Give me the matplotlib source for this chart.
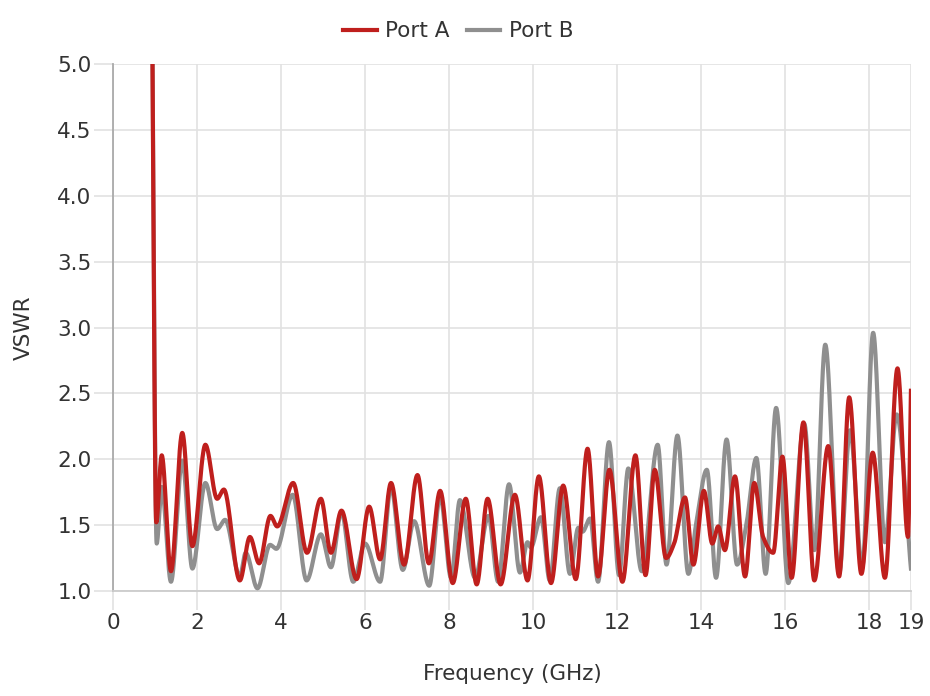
import numpy as np
import matplotlib
matplotlib.use("Agg")
import matplotlib.pyplot as plt

# Port A (red) - extrema
freq_a = [0.92, 1.03, 1.16, 1.38, 1.65, 1.89, 2.20, 2.48, 2.64, 3.02, 3.26, 3.48,
          3.75, 3.91, 4.29, 4.62, 4.95, 5.19, 5.44, 5.80, 6.10, 6.36, 6.62, 6.93,
          7.25, 7.52, 7.79, 8.09, 8.40, 8.66, 8.92, 9.23, 9.57, 9.87, 10.14, 10.43,
          10.72, 11.02, 11.30, 11.55, 11.82, 12.13, 12.44, 12.68, 12.90, 13.17, 13.36,
          13.62, 13.82, 14.07, 14.27, 14.41, 14.57, 14.81, 15.05, 15.27, 15.48, 15.72,
          15.94, 16.16, 16.44, 16.70, 17.03, 17.29, 17.53, 17.82, 18.09, 18.38, 18.68,
          18.93, 19.00]
vswr_a = [6.00, 1.52, 2.03, 1.15, 2.20, 1.34, 2.11, 1.70, 1.77, 1.08, 1.41, 1.21,
          1.57, 1.49, 1.82, 1.29, 1.70, 1.29, 1.61, 1.09, 1.64, 1.24, 1.82, 1.20,
          1.88, 1.21, 1.76, 1.06, 1.70, 1.05, 1.70, 1.05, 1.73, 1.08, 1.87, 1.06,
          1.80, 1.09, 2.08, 1.11, 1.92, 1.07, 2.03, 1.12, 1.92, 1.25, 1.36,
          1.71, 1.20, 1.76, 1.36, 1.49, 1.31, 1.87, 1.11, 1.82, 1.41, 1.29,
          2.02, 1.10, 2.28, 1.08, 2.10, 1.11, 2.47, 1.13, 2.05, 1.10, 2.69,
          1.41, 2.52]

# Port B (gray)
freq_b = [0.92, 1.04, 1.16, 1.38, 1.65, 1.89, 2.20, 2.48, 2.67, 3.02, 3.16, 3.44,
          3.74, 3.89, 4.28, 4.61, 4.95, 5.19, 5.44, 5.72, 6.00, 6.36, 6.62, 6.90,
          7.17, 7.53, 7.79, 8.05, 8.26, 8.62, 8.94, 9.17, 9.43, 9.69, 9.87, 9.95,
          10.19, 10.40, 10.64, 10.88, 11.08, 11.18, 11.36, 11.55, 11.81, 12.05, 12.27,
          12.59, 12.97, 13.18, 13.44, 13.70, 13.89, 14.14, 14.36, 14.61, 14.86, 15.08,
          15.32, 15.54, 15.79, 16.08, 16.46, 16.70, 16.96, 17.29, 17.55, 17.84, 18.10,
          18.38, 18.66, 19.00]
vswr_b = [6.00, 1.36, 1.79, 1.07, 1.99, 1.17, 1.82, 1.47, 1.54, 1.11, 1.29, 1.02,
          1.35, 1.32, 1.73, 1.08, 1.43, 1.18, 1.60, 1.07, 1.36, 1.07, 1.79, 1.16,
          1.53, 1.04, 1.72, 1.10, 1.69, 1.10, 1.57, 1.07, 1.81, 1.14, 1.37, 1.33,
          1.56, 1.08, 1.78, 1.13, 1.48, 1.45, 1.55, 1.07, 2.13, 1.12, 1.93,
          1.15, 2.11, 1.20, 2.18, 1.13, 1.52, 1.92, 1.10, 2.15, 1.20, 1.50,
          2.01, 1.13, 2.39, 1.06, 2.27, 1.31, 2.87, 1.13, 2.22, 1.18, 2.96,
          1.37, 2.34, 1.17]

x_ticks = [0, 2, 4, 6, 8, 10, 12, 14, 16, 18, 19]
y_ticks = [1.0, 1.5, 2.0, 2.5, 3.0, 3.5, 4.0, 4.5, 5.0]

RED = "#bf1f1d"
GRAY = "#8f8f8f"
TEXT = "#333333"


def pchip(x, y, xs):
    # monotone cubic so the curve passes through each peak/valley without overshoot
    x = np.asarray(x, float)
    y = np.asarray(y, float)
    h = np.diff(x)
    d = np.diff(y) / h
    m = np.zeros_like(y)
    for k in range(1, len(x) - 1):
        if d[k - 1] * d[k] > 0:
            w1 = 2 * h[k] + h[k - 1]
            w2 = h[k] + 2 * h[k - 1]
            m[k] = (w1 + w2) / (w1 / d[k - 1] + w2 / d[k])
    m[0] = d[0]
    m[-1] = d[-1]
    idx = np.clip(np.searchsorted(x, xs) - 1, 0, len(x) - 2)
    t = (xs - x[idx]) / h[idx]
    h00 = 2 * t**3 - 3 * t**2 + 1
    h10 = t**3 - 2 * t**2 + t
    h01 = -2 * t**3 + 3 * t**2
    h11 = t**3 - t**2
    return h00 * y[idx] + h10 * h[idx] * m[idx] + h01 * y[idx + 1] + h11 * h[idx] * m[idx + 1]


plt.rcParams["font.family"] = ["DejaVu Sans"]
FS = 15.5

fig = plt.figure(figsize=(9.3, 6.96), dpi=100)
ax = fig.add_axes([0.1215, 0.1509, 0.858, 0.757])

xa = np.linspace(freq_a[0], freq_a[-1], 3000)
xb = np.linspace(freq_b[0], freq_b[-1], 3000)
ax.plot(xb, pchip(freq_b, vswr_b, xb), color=GRAY, lw=3, label="Port B", zorder=3)
ax.plot(xa, pchip(freq_a, vswr_a, xa), color=RED, lw=3, label="Port A", zorder=4)

ax.set_xlim(0, 19)
ax.set_ylim(1.0, 5.0)
ax.set_xticks(x_ticks)
ax.set_yticks(y_ticks)
ax.set_yticklabels([f"{v:.1f}" for v in y_ticks])
ax.grid(True, color="#e2e2e2", lw=1.2)
ax.set_axisbelow(True)
ax.tick_params(axis="both", colors="#e2e2e2", length=13.5, width=1.2,
               labelsize=FS, labelcolor=TEXT, pad=2)
# the tick under the y axis continues the darker axis line
ax.xaxis.get_major_ticks()[0].tick1line.set_color("#aaaaaa")

for side in ("top", "right"):
    ax.spines[side].set_visible(False)
ax.spines["left"].set_color("#aaaaaa")
ax.spines["left"].set_linewidth(1.3)
ax.spines["bottom"].set_color("#cccccc")
ax.spines["bottom"].set_linewidth(1.3)

ax.set_xlabel("Frequency (GHz)", fontsize=FS, color=TEXT, labelpad=23)
ax.set_ylabel("VSWR", fontsize=FS, color=TEXT, labelpad=17)

handles, labels = ax.get_legend_handles_labels()
fig.legend(handles[::-1], labels[::-1], loc="center", bbox_to_anchor=(0.493, 0.955),
           ncol=2, frameon=False, fontsize=FS, handlelength=1.55, handletextpad=0.4,
           columnspacing=0.8, labelcolor=TEXT)

fig.savefig("out.png", dpi=100)
